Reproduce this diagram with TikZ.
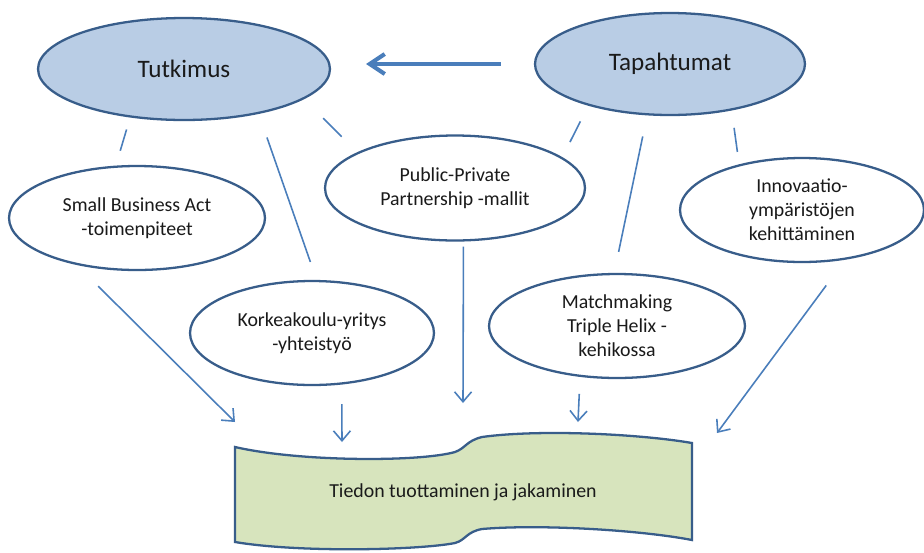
\documentclass[tikz,border=0pt]{standalone}
\usepackage{fontspec}
\setmainfont{Carlito}
\usetikzlibrary{shapes.geometric, arrows.meta}

\begin{document}
\begin{tikzpicture}[x=0.02cm, y=-0.02cm,
		mainball/.style={ellipse, draw=rimcol, line width=1.3pt, fill=ballcol, inner sep=0pt, text=inkcol, font=\fontsize{14.3}{17}\selectfont},
		subball/.style={ellipse, draw=rimcol, line width=1.3pt, fill=white, inner sep=0pt, align=center, text=inkcol, font=\fontsize{11.3}{13.7}\selectfont},
		link/.style={draw=linkcol, line width=0.9pt},
		feed/.style={link, -{Straight Barb[length=2mm,width=3.4mm]}}]
		
		\definecolor{ballcol}{HTML}{B9CDE5}
		\definecolor{rimcol}{HTML}{385D8A}
		\definecolor{linkcol}{HTML}{4A7EBB}
		\definecolor{bandcol}{HTML}{D7E4BD}
		\definecolor{inkcol}{HTML}{1A1A1A}
		
		\fill[white] (0,0) rectangle (924,552);
		\useasboundingbox (0,0) rectangle (924,552);
		
		% Top ellipses
		\node[mainball, minimum width=5.84cm, minimum height=2.04cm] (tutk) at (184,69) {Tutkimus};
		\node[mainball, minimum width=5.4cm, minimum height=2.04cm] (tapa) at (670,64) {Tapahtumat};
		
		% Middle ellipses
		\node[subball, minimum width=5.12cm, minimum height=2.08cm] (sba) at (137,218) {Small Business Act\\-toimenpiteet};
		\node[subball, minimum width=4.88cm, minimum height=2.08cm] (korkea) at (312,333) {Korkeakoulu-yritys\\-yhteistyö};
		\node[subball, minimum width=5.2cm, minimum height=2.1cm] (ppp) at (455,188) {Public-Private\\Partnership -mallit};
		\node[subball, minimum width=4.88cm, minimum height=2.08cm] (innov) at (802,210) {Innovaatio-\\ympäristöjen\\kehittäminen};
		\node[subball, minimum width=5.12cm, minimum height=2.08cm] (match) at (617,326) {Matchmaking\\Triple Helix -\\kehikossa};
		
		% Bottom banner
		\draw[draw=rimcol, line width=1.3pt, fill=bandcol]
		(235,447) .. controls (300,462) and (420,462) .. (455,452)
		.. controls (466,448) and (466,441) .. (482,437)
		.. controls (540,429) and (640,434) .. (692,443) -- (692,540)
		.. controls (640,530) and (540,524) .. (482,529)
		.. controls (466,532) and (466,540) .. (455,543)
		.. controls (420,550) and (300,553) .. (235,542) -- cycle;
		\node[text=inkcol, font=\fontsize{11.3}{13.7}\selectfont] (tieto) at (463,492) {Tiedon tuottaminen ja jakaminen};
		
		% Big arrow between top ellipses
		\draw[draw=linkcol, line width=2.3pt, -{Straight Barb[length=3mm,width=4mm]}, shorten <=0.66cm, shorten >=0.7cm]
		(tapa.west) -- (tapa.west -| tutk.east);
		
		% Lines from top to middle
		\draw[link, shorten <=0.25cm, shorten >=0.31cm] (tutk.-138.7) -- (sba.112.4);
		\draw[link, shorten <=0.5cm, shorten >=0.38cm] (tutk.-31.4) -- (korkea.85.2);
		\draw[link, shorten <=0.54cm, shorten >=0.44cm] (tutk.-14.1) -- (ppp.160.5);
		\draw[link, shorten <=0.35cm, shorten >=0.34cm] (tapa.-153.6) -- (ppp.16.4);
		\draw[link, shorten <=0.43cm, shorten >=0.43cm] (tapa.-114.3) -- (match.93.9);
		\draw[link, shorten <=0.35cm, shorten >=0.25cm] (tapa.-37) -- (innov.144.8);
		
		% Arrows down to the banner
		\coordinate (tipG) at (235,422);
		\coordinate (tipH) at (342,442);
		\coordinate (tipI) at (463,403);
		\coordinate (tipJ) at (578,422);
		\coordinate (tipK) at (717,433);
		\draw[feed, shorten <=0.6cm] (sba.-142.7) -- (tipG);
		\draw[feed, shorten <=0.39cm] (korkea.-60) -- (tipH);
		\draw[feed, shorten <=0.1cm] (ppp.-81) -- (tipI);
		\draw[feed, shorten <=0.34cm] (match.-126.6) -- (tipJ);
		\draw[feed, shorten <=0.64cm] (innov.-49.1) -- (tipK);
		
	\end{tikzpicture}
\end{document}
